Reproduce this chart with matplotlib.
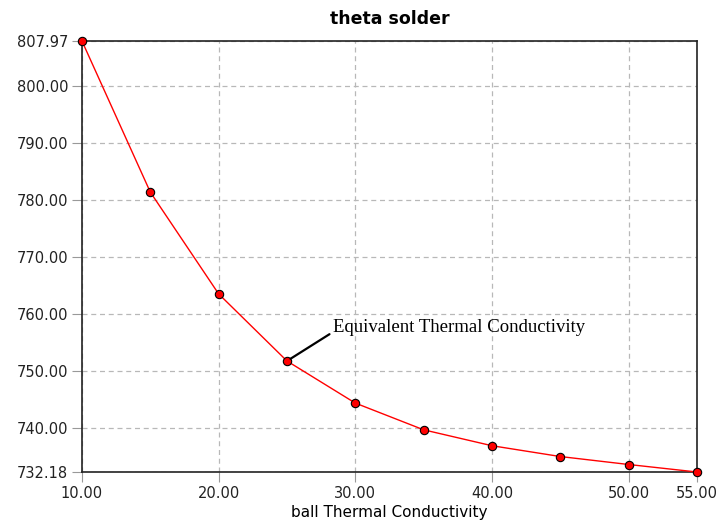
import matplotlib
matplotlib.use("Agg")
import matplotlib.pyplot as plt

# data
conductivity = [10, 15, 20, 25, 30, 35, 40, 45, 50, 55]
theta = [807.97, 781.4, 763.5, 751.7, 744.3, 739.6, 736.8, 734.9, 733.5, 732.18]
x_ticks = [10, 20, 30, 40, 50, 55]
y_ticks = [732.18, 740, 750, 760, 770, 780, 790, 800, 807.97]

fig = plt.figure(figsize=(7.19, 5.23), dpi=100)
ax = fig.add_axes([0.114, 0.0975, 0.8554, 0.8241])

# grid first so the curve sits on top
ax.grid(True, color="#b8b8b8", linestyle=(0, (4, 3)), linewidth=0.9)
ax.set_axisbelow(True)

ax.plot(conductivity, theta, color="red", linewidth=1.0,
        marker="o", markersize=6, markerfacecolor="red",
        markeredgecolor="black", markeredgewidth=0.8, clip_on=False, zorder=3)

ax.set_xlim(10, 55)
ax.set_ylim(732.18, 807.97)
ax.set_xticks(x_ticks)
ax.set_xticklabels([f"{v:.2f}" for v in x_ticks])
ax.set_yticks(y_ticks)
ax.set_yticklabels([f"{v:.2f}" for v in y_ticks])
ax.tick_params(axis="both", labelsize=10.5, labelcolor="#222222",
               color="#999999", length=7, width=0.8, pad=3)

for spine in ax.spines.values():
    spine.set_color("#222222")
    spine.set_linewidth(1.2)

ax.set_title("theta solder", fontsize=12.5, fontweight="bold", pad=12)
ax.set_xlabel("ball Thermal Conductivity", fontsize=11, labelpad=3)

# label pointing at the 25.00 point
ax.annotate("Equivalent Thermal Conductivity",
            xy=(conductivity[3], theta[3]), xytext=(28.4, 757.6),
            fontsize=13.5, family="Liberation Serif", ha="left", va="center",
            arrowprops=dict(arrowstyle="-", color="black", linewidth=1.6,
                            relpos=(0, 0.25), shrinkA=1, shrinkB=3))

fig.savefig("out.png", dpi=100)
